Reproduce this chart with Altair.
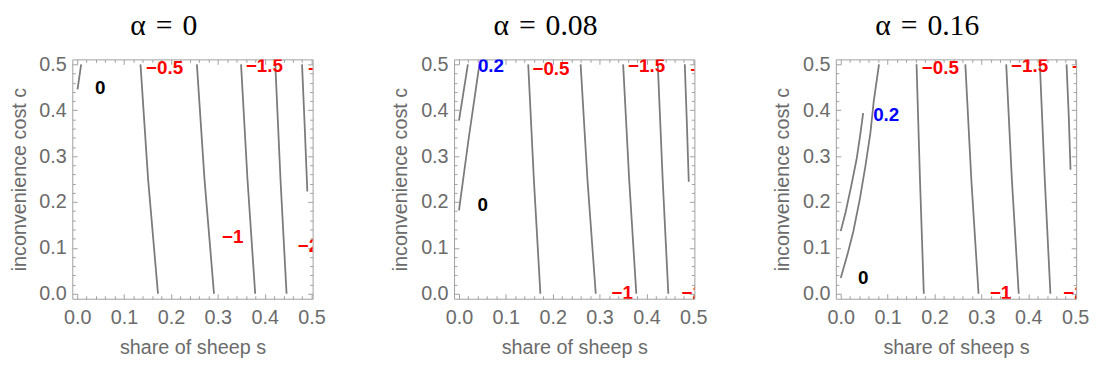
import altair as alt
import pandas as pd

TITLES = ["α\u2004=\u20040", "α\u2004=\u20040.08", "α\u2004=\u20040.16"]
MAJOR = [0.0, 0.1, 0.2, 0.3, 0.4, 0.5]
MINOR = [0.02, 0.04, 0.06, 0.08, 0.12, 0.14, 0.16, 0.18, 0.22, 0.24, 0.26, 0.28,
         0.32, 0.34, 0.36, 0.38, 0.42, 0.44, 0.46, 0.48]

# ---- panel alpha = 0 : contour curves (s, c) ----
A0_L1_S = [0.0007, 0.0084]
A0_L1_C = [0.4454, 0.5]
A0_L2_S = [0.1723, 0.1512, 0.1350]
A0_L2_C = [0.0, 0.25, 0.5]
A0_L3_S = [0.2918, 0.2715, 0.2553]
A0_L3_C = [0.0, 0.25, 0.5]
A0_L4_S = [0.3797, 0.3632, 0.3495]
A0_L4_C = [0.0, 0.25, 0.5]
A0_L5_S = [0.4466, 0.4336, 0.4226]
A0_L5_C = [0.0, 0.25, 0.5]
A0_L6_S = [0.4909, 0.4855, 0.4796]
A0_L6_C = [0.2227, 0.36, 0.5]
A0_LAB_T = ["0", "−0.5", "−1", "−1.5", "−2", "−2"]
A0_LAB_S = [0.0492, 0.1864, 0.3319, 0.3994, 0.4932, 0.515]
A0_LAB_C = [0.449, 0.4928, 0.1228, 0.4957, 0.1049, 0.4907]
A0_LAB_COL = ["black", "red", "red", "red", "red", "red"]

# ---- panel alpha = 0.08 ----
A1_L1_S = [0.0, 0.019]
A1_L1_C = [0.3772, 0.5]
A1_L2_S = [0.0, 0.0204, 0.0436]
A1_L2_C = [0.1818, 0.3362, 0.5]
A1_L3_S = [0.1737, 0.1597, 0.1477]
A1_L3_C = [0.0, 0.25, 0.5]
A1_L4_S = [0.2918, 0.2740, 0.2595]
A1_L4_C = [0.0, 0.25, 0.5]
A1_L5_S = [0.3783, 0.3630, 0.3502]
A1_L5_C = [0.0, 0.25, 0.5]
A1_L6_S = [0.4466, 0.4345, 0.4241]
A1_L6_C = [0.0, 0.25, 0.5]
A1_L7_S = [0.4902, 0.4862, 0.4817]
A1_L7_C = [0.2443, 0.37, 0.5]
A1_LAB_T = ["0.2", "0", "−0.5", "−1.5", "−1", "−2", "−2"]
A1_LAB_S = [0.0682, 0.0506, 0.1962, 0.4001, 0.3481, 0.4975, 0.5164]
A1_LAB_C = [0.4964, 0.1925, 0.4907, 0.4957, 0.002, 0.002, 0.4885]
A1_LAB_COL = ["blue", "black", "red", "red", "red", "red", "red"]

# ---- panel alpha = 0.16 ----
A2_L1_S = [0.0, 0.0105, 0.0225, 0.0338, 0.0422, 0.0478]
A2_L1_C = [0.1365, 0.1782, 0.2356, 0.2931, 0.3506, 0.3937]
A2_L2_S = [0.0, 0.0141, 0.0267, 0.0408, 0.0527, 0.0633, 0.0703, 0.0816]
A2_L2_C = [0.0345, 0.0848, 0.1351, 0.2069, 0.2787, 0.3506, 0.4188, 0.5]
A2_L3_S = [0.1772, 0.1690, 0.1617]
A2_L3_C = [0.0, 0.25, 0.5]
A2_L4_S = [0.2940, 0.2785, 0.2658]
A2_L4_C = [0.0, 0.25, 0.5]
A2_L5_S = [0.3797, 0.3650, 0.3530]
A2_L5_C = [0.0, 0.25, 0.5]
A2_L6_S = [0.4473, 0.4352, 0.4248]
A2_L6_C = [0.0, 0.25, 0.5]
A2_L7_S = [0.4902, 0.4865, 0.4817]
A2_L7_C = [0.2701, 0.385, 0.5]
A2_LAB_T = ["0.2", "0", "−0.5", "−1.5", "−1", "−2", "−2"]
A2_LAB_S = [0.097, 0.0478, 0.2124, 0.403, 0.341, 0.4975, 0.5164]
A2_LAB_C = [0.390, 0.0345, 0.4928, 0.4957, 0.002, 0.002, 0.494]
A2_LAB_COL = ["blue", "black", "red", "red", "red", "red", "red"]

PANELS = [
    (TITLES[0],
     [(A0_L1_S, A0_L1_C), (A0_L2_S, A0_L2_C), (A0_L3_S, A0_L3_C),
      (A0_L4_S, A0_L4_C), (A0_L5_S, A0_L5_C), (A0_L6_S, A0_L6_C)],
     (A0_LAB_T, A0_LAB_S, A0_LAB_C, A0_LAB_COL)),
    (TITLES[1],
     [(A1_L1_S, A1_L1_C), (A1_L2_S, A1_L2_C), (A1_L3_S, A1_L3_C),
      (A1_L4_S, A1_L4_C), (A1_L5_S, A1_L5_C), (A1_L6_S, A1_L6_C), (A1_L7_S, A1_L7_C)],
     (A1_LAB_T, A1_LAB_S, A1_LAB_C, A1_LAB_COL)),
    (TITLES[2],
     [(A2_L1_S, A2_L1_C), (A2_L2_S, A2_L2_C), (A2_L3_S, A2_L3_C),
      (A2_L4_S, A2_L4_C), (A2_L5_S, A2_L5_C), (A2_L6_S, A2_L6_C), (A2_L7_S, A2_L7_C)],
     (A2_LAB_T, A2_LAB_S, A2_LAB_C, A2_LAB_COL)),
]

W, H = 243, 242
XDOM = [-0.0105, 0.5022]
YDOM = [-0.0108, 0.5108]
FRAME = "#a0a0a0"
LBL = "#6b6b6b"
FONT = "Liberation Sans"
LINE = "#7b7b7b"


def tick_axis(orient, off, vals, size):
    return alt.Axis(orient=orient, offset=off, values=vals, labels=False, ticks=True,
                    tickSize=size, tickColor=FRAME, tickWidth=1, domain=False, grid=False,
                    title=None, minExtent=0, maxExtent=0)


def panel(title, lines, labels):
    rows = []
    for lid, (S, C) in enumerate(lines):
        for i, (s, c) in enumerate(zip(S, C)):
            rows.append({"line": lid, "i": i, "s": s, "c": c})
    df = pd.DataFrame(rows)
    T, LS, LC, COL = labels
    ldf = pd.DataFrame({"t": T, "s": LS, "c": LC, "col": COL})
    xs = alt.Scale(domain=XDOM, nice=False, zero=False)
    ys = alt.Scale(domain=YDOM, nice=False, zero=False)
    base = alt.Chart(df)
    main = base.mark_line(color=LINE, strokeWidth=1.8, clip=True).encode(
        x=alt.X("s:Q", scale=xs, axis=alt.Axis(
            orient="bottom", values=MAJOR, format=".1f", ticks=False, domain=False, grid=False,
            title="share of sheep s", labelPadding=9, titlePadding=10, labelFontSize=20,
            titleFontSize=20, labelColor=LBL, titleColor=LBL, labelFont=FONT, titleFont=FONT,
            titleFontWeight="normal", labelFlush=False)),
        y=alt.Y("c:Q", scale=ys, axis=alt.Axis(
            orient="left", values=MAJOR, format=".1f", ticks=False, domain=False, grid=False,
            title="inconvenience cost c", labelPadding=6, titlePadding=10, labelFontSize=20,
            titleFontSize=20, labelColor=LBL, titleColor=LBL, labelFont=FONT, titleFont=FONT,
            titleFontWeight="normal", labelFlush=False)),
        detail="line:N", order="i:Q")
    text = alt.Chart(ldf).mark_text(clip=True, fontWeight="bold", fontSize=19, font=FONT).encode(
        x=alt.X("s:Q", axis=None), y=alt.Y("c:Q", axis=None), text="t:N",
        color=alt.Color("col:N", scale=None))

    def tl(xo, yo, vals, size):
        return base.mark_line(opacity=0).encode(
            x=alt.X("s:Q", axis=tick_axis(xo, -H, vals, size)),
            y=alt.Y("c:Q", axis=tick_axis(yo, -W, vals, size)),
            detail="line:N", order="i:Q")

    return alt.layer(
        main, text,
        tl("top", "right", MAJOR, 5), tl("bottom", "left", MAJOR, 5),
        tl("top", "right", MINOR, 3), tl("bottom", "left", MINOR, 3),
    ).properties(
        width=W, height=H,
        title=alt.TitleParams(title, font="Liberation Serif", fontSize=30, fontWeight="normal",
                              color="black", anchor="middle", offset=14, dx=-29))


chart = alt.hconcat(*[panel(*p) for p in PANELS], spacing=143, bounds="flush").properties(
    padding={"left": 0, "top": 0, "right": 0, "bottom": 0}
).configure_view(stroke=FRAME, strokeWidth=1)

chart.save("out.html", embed_options={"renderer": "svg", "actions": False})
